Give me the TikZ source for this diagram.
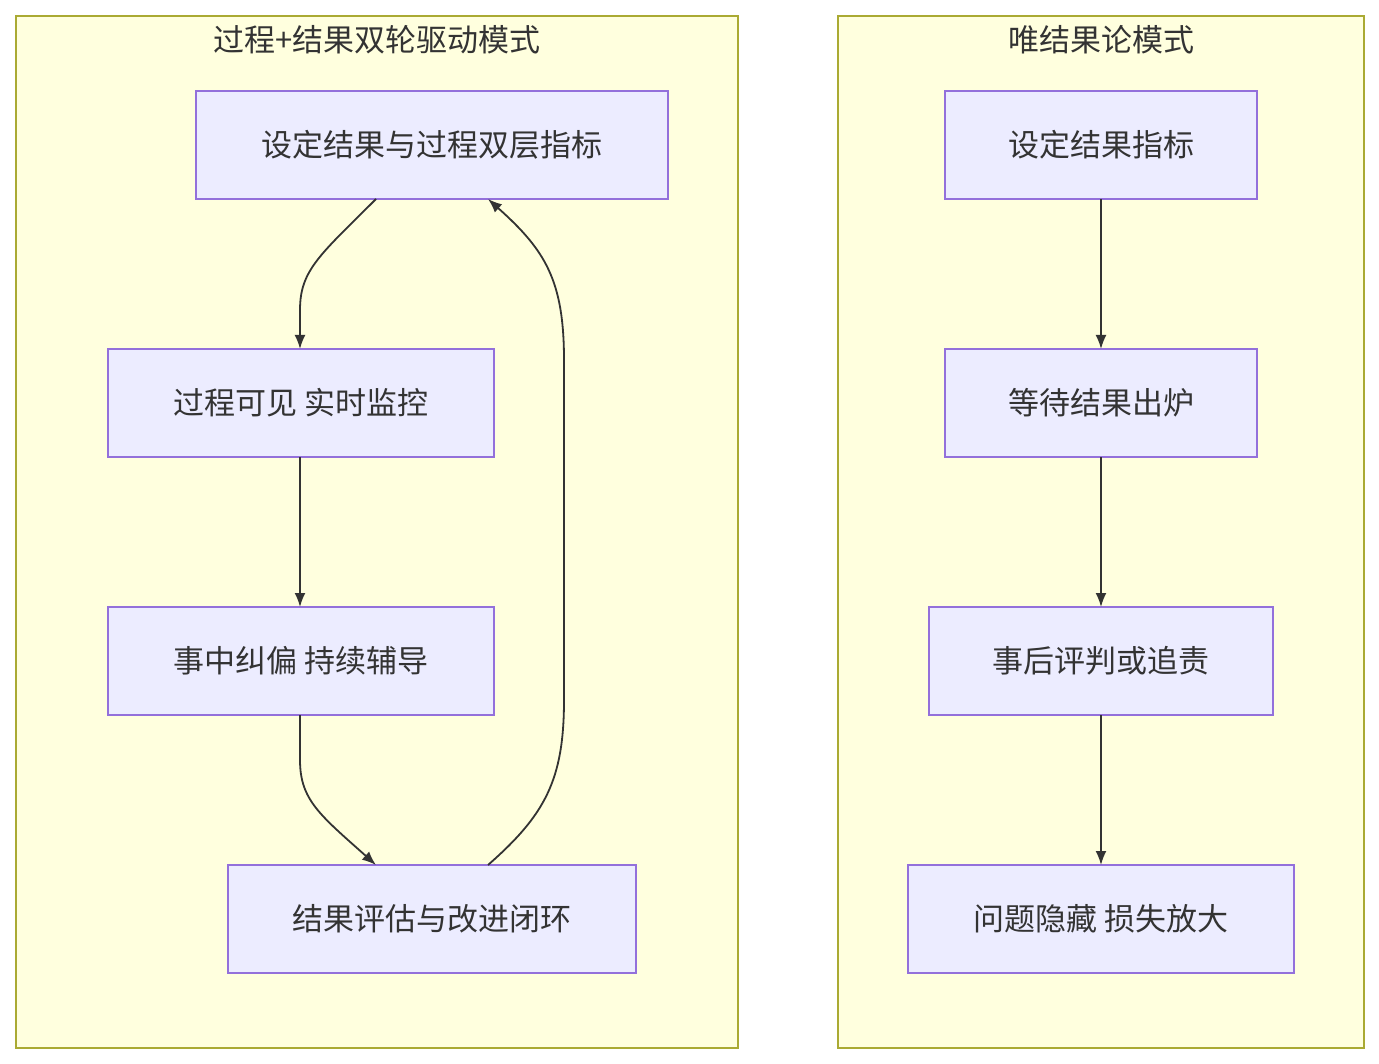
\documentclass[tikz,border=0pt]{standalone}
\usepackage{fontspec}
\setmainfont{Noto Sans CJK SC}
\usetikzlibrary{arrows.meta}
\definecolor{cl}{HTML}{FFFFDE}\definecolor{cb}{HTML}{AAAA33}
\definecolor{nf}{HTML}{ECECFF}\definecolor{nb}{HTML}{9370DB}
\definecolor{tx}{HTML}{333333}
\begin{document}
\begin{tikzpicture}[x=1pt,y=-1pt,
 clu/.style={draw=cb,fill=cl,line width=1.3pt},
 box/.style={draw=nb,fill=nf,line width=1.3pt},
 lab/.style={font=\fontsize{31}{36}\selectfont,text=tx},
 ar/.style={draw=tx,line width=1.8pt,-{Latex[length=14pt,width=11pt]}}]
\useasboundingbox (0,0) rectangle (1379,1064);
\draw[clu] (16,16) rectangle (738,1048);
\draw[clu] (838,16) rectangle (1364,1048);
\node[lab] (t1) at (377,40) {过程+结果双轮驱动模式};
\node[lab] (t2) at (1101,40) {唯结果论模式};
\draw[box] (196,91) rectangle (668,199); \node[lab] (A) at (432,145) {设定结果与过程双层指标};
\draw[box] (108,349) rectangle (494,457); \node[lab] (B) at (301,403) {过程可见 实时监控};
\draw[box] (108,607) rectangle (494,715); \node[lab] (C) at (301,661) {事中纠偏 持续辅导};
\draw[box] (228,865) rectangle (636,973); \node[lab] (D) at (432,919) {结果评估与改进闭环};
\draw[box] (945,91) rectangle (1257,199); \node[lab] (E) at (1101,145) {设定结果指标};
\draw[box] (945,349) rectangle (1257,457); \node[lab] (F) at (1101,403) {等待结果出炉};
\draw[box] (929,607) rectangle (1273,715); \node[lab] (G) at (1101,661) {事后评判或追责};
\draw[box] (908,865) rectangle (1294,973); \node[lab] (H) at (1101,919) {问题隐藏 损失放大};
\coordinate (a1) at (376,199); \coordinate (b1) at (300,349);
\coordinate (b2) at (300,457); \coordinate (c1) at (300,607);
\coordinate (c2) at (300,715); \coordinate (d1) at (376,865);
\coordinate (d2) at (488,865); \coordinate (a2) at (488,199);
\draw[ar] (a1) .. controls (320,255) and (300,270) .. (300,310) -- (b1);
\draw[ar] (b2) -- (c1);
\draw[ar] (c2) -- (300,760) .. controls (300,800) and (320,815) .. (d1);
\draw[ar] (d2) .. controls (545,815) and (564,780) .. (564,700) -- (564,360) .. controls (564,280) and (545,250) .. (a2);
\draw[ar] (1101,199) -- (1101,349);
\draw[ar] (1101,457) -- (1101,607);
\draw[ar] (1101,715) -- (1101,865);
\end{tikzpicture}
\end{document}
